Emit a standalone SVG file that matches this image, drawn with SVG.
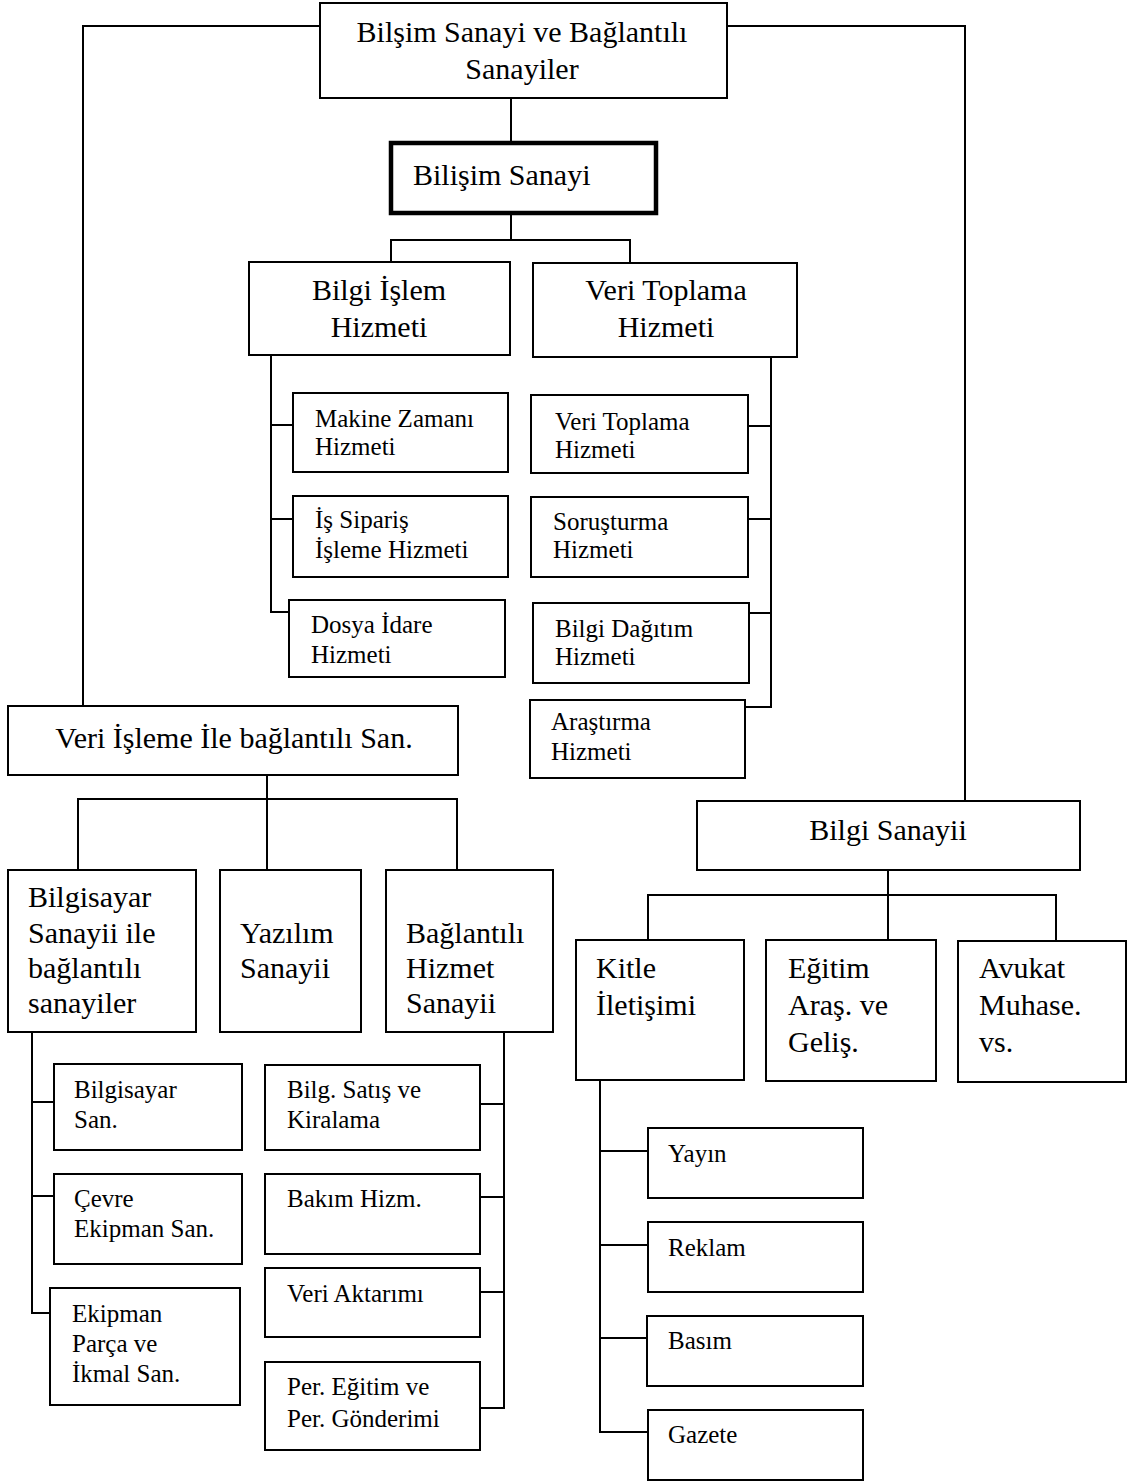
<svg xmlns="http://www.w3.org/2000/svg" width="1133" height="1484" viewBox="0 0 1133 1484">
<style>
rect{fill:#fff;stroke:#000;stroke-width:2}
.thick{stroke-width:4.5}
text{font-family:"Liberation Serif","Times New Roman",serif;fill:#000}
.b{font-size:30px}
.s{font-size:25px}
.c{text-anchor:middle}
#connectors path{fill:none;stroke:#000;stroke-width:2}
</style>
<rect x="0" y="0" width="1133" height="1484" style="fill:#fff;stroke:none"/>
<g id="connectors">
<path d="M320,26 H83 V706"/>
<path d="M727,26 H965 V801"/>
<path d="M511,98 V143"/>
<path d="M511,213 V240"/>
<path d="M391,262 V240 H630 V262"/>
<path d="M271,355 V612 H289"/>
<path d="M271,425 H293"/>
<path d="M271,519 H293"/>
<path d="M771,357 V707 H745"/>
<path d="M748,426 H771"/>
<path d="M748,519 H771"/>
<path d="M749,613 H771"/>
<path d="M267,775 V799"/>
<path d="M78,870 V799 H457 V870"/>
<path d="M267,799 V870"/>
<path d="M32,1032 V1313 H50"/>
<path d="M32,1102 H54"/>
<path d="M32,1196 H54"/>
<path d="M504,1032 V1408 H480"/>
<path d="M480,1104 H504"/>
<path d="M480,1197 H504"/>
<path d="M480,1292 H504"/>
<path d="M888,870 V895"/>
<path d="M648,940 V895 H1056 V940"/>
<path d="M888,895 V940"/>
<path d="M600,1080 V1432 H648"/>
<path d="M600,1151 H648"/>
<path d="M600,1245 H648"/>
<path d="M600,1338 H647"/>
</g>
<g id="n1"><rect x="320" y="3" width="407" height="95"/><text class="b c" x="522" y="42">Bilşim Sanayi ve Bağlantılı</text><text class="b c" x="522" y="79">Sanayiler</text></g>
<g id="n2"><rect class="thick" x="391" y="143" width="265" height="70"/><text class="b" x="413" y="185">Bilişim Sanayi</text></g>
<g id="n3"><rect x="249" y="262" width="261" height="93"/><text class="b c" x="379" y="300">Bilgi İşlem</text><text class="b c" x="379" y="337">Hizmeti</text></g>
<g id="n4"><rect x="533" y="263" width="264" height="94"/><text class="b c" x="666" y="300">Veri Toplama</text><text class="b c" x="666" y="337">Hizmeti</text></g>
<g id="n5"><rect x="293" y="393" width="215" height="79"/><text class="s" x="315" y="427">Makine Zamanı</text><text class="s" x="315" y="455">Hizmeti</text></g>
<g id="n6"><rect x="293" y="496" width="215" height="81"/><text class="s" x="315" y="528">İş Sipariş</text><text class="s" x="315" y="558">İşleme Hizmeti</text></g>
<g id="n7"><rect x="289" y="600" width="216" height="77"/><text class="s" x="311" y="633">Dosya İdare</text><text class="s" x="311" y="663">Hizmeti</text></g>
<g id="n8"><rect x="531" y="395" width="217" height="78"/><text class="s" x="555" y="430">Veri Toplama</text><text class="s" x="555" y="458">Hizmeti</text></g>
<g id="n9"><rect x="531" y="497" width="217" height="80"/><text class="s" x="553" y="530">Soruşturma</text><text class="s" x="553" y="558">Hizmeti</text></g>
<g id="n10"><rect x="533" y="603" width="216" height="80"/><text class="s" x="555" y="637">Bilgi Dağıtım</text><text class="s" x="555" y="665">Hizmeti</text></g>
<g id="n11"><rect x="530" y="700" width="215" height="78"/><text class="s" x="551" y="730">Araştırma</text><text class="s" x="551" y="760">Hizmeti</text></g>
<g id="n12"><rect x="8" y="706" width="450" height="69"/><text class="b c" x="234" y="748">Veri İşleme İle bağlantılı San.</text></g>
<g id="n13"><rect x="8" y="870" width="188" height="162"/><text class="b" x="28" y="907">Bilgisayar</text><text class="b" x="28" y="943">Sanayii ile</text><text class="b" x="28" y="978">bağlantılı</text><text class="b" x="28" y="1013">sanayiler</text></g>
<g id="n14"><rect x="220" y="870" width="141" height="162"/><text class="b" x="240" y="943">Yazılım</text><text class="b" x="240" y="978">Sanayii</text></g>
<g id="n15"><rect x="386" y="870" width="167" height="162"/><text class="b" x="406" y="943">Bağlantılı</text><text class="b" x="406" y="978">Hizmet</text><text class="b" x="406" y="1013">Sanayii</text></g>
<g id="n16"><rect x="54" y="1064" width="188" height="86"/><text class="s" x="74" y="1098">Bilgisayar</text><text class="s" x="74" y="1128">San.</text></g>
<g id="n17"><rect x="54" y="1174" width="188" height="90"/><text class="s" x="74" y="1207">Çevre</text><text class="s" x="74" y="1237">Ekipman San.</text></g>
<g id="n18"><rect x="50" y="1288" width="190" height="117"/><text class="s" x="72" y="1322">Ekipman</text><text class="s" x="72" y="1352">Parça ve</text><text class="s" x="72" y="1382">İkmal San.</text></g>
<g id="n19"><rect x="265" y="1065" width="215" height="85"/><text class="s" x="287" y="1098">Bilg. Satış ve</text><text class="s" x="287" y="1128">Kiralama</text></g>
<g id="n20"><rect x="265" y="1174" width="215" height="80"/><text class="s" x="287" y="1207">Bakım Hizm.</text></g>
<g id="n21"><rect x="265" y="1268" width="215" height="69"/><text class="s" x="287" y="1302">Veri Aktarımı</text></g>
<g id="n22"><rect x="265" y="1362" width="215" height="88"/><text class="s" x="287" y="1395">Per. Eğitim ve</text><text class="s" x="287" y="1427">Per. Gönderimi</text></g>
<g id="n23"><rect x="697" y="801" width="383" height="69"/><text class="b c" x="888" y="840">Bilgi Sanayii</text></g>
<g id="n24"><rect x="576" y="940" width="168" height="140"/><text class="b" x="596" y="978">Kitle</text><text class="b" x="596" y="1015">İletişimi</text></g>
<g id="n25"><rect x="766" y="940" width="170" height="141"/><text class="b" x="788" y="978">Eğitim</text><text class="b" x="788" y="1015">Araş. ve</text><text class="b" x="788" y="1052">Geliş.</text></g>
<g id="n26"><rect x="958" y="941" width="168" height="141"/><text class="b" x="979" y="978">Avukat</text><text class="b" x="979" y="1015">Muhase.</text><text class="b" x="979" y="1052">vs.</text></g>
<g id="n27"><rect x="648" y="1128" width="215" height="70"/><text class="s" x="668" y="1162">Yayın</text></g>
<g id="n28"><rect x="648" y="1222" width="215" height="70"/><text class="s" x="668" y="1256">Reklam</text></g>
<g id="n29"><rect x="647" y="1316" width="216" height="70"/><text class="s" x="668" y="1349">Basım</text></g>
<g id="n30"><rect x="648" y="1410" width="215" height="70"/><text class="s" x="668" y="1443">Gazete</text></g>
</svg>
